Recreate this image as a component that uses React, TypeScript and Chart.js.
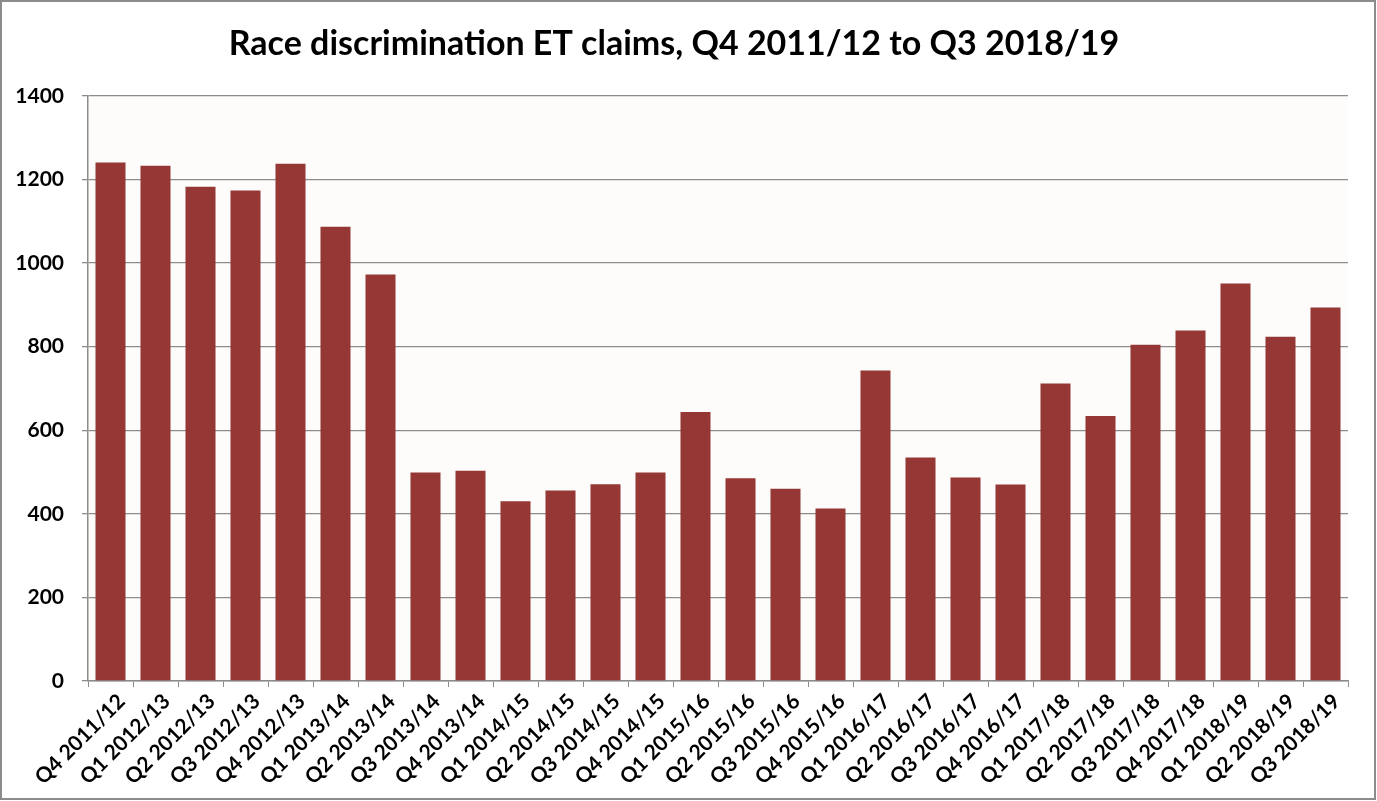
import React, { useEffect, useRef } from "react";
import { Chart, registerables } from "chart.js";

Chart.register(...registerables);

const TITLE = "Race discrimination ET claims, Q4 2011/12 to Q3 2018/19";

const quarters: string[] = [
  "Q4 2011/12", "Q1 2012/13", "Q2 2012/13", "Q3 2012/13", "Q4 2012/13",
  "Q1 2013/14", "Q2 2013/14", "Q3 2013/14", "Q4 2013/14", "Q1 2014/15",
  "Q2 2014/15", "Q3 2014/15", "Q4 2014/15", "Q1 2015/16", "Q2 2015/16",
  "Q3 2015/16", "Q4 2015/16", "Q1 2016/17", "Q2 2016/17", "Q3 2016/17",
  "Q4 2016/17", "Q1 2017/18", "Q2 2017/18", "Q3 2017/18", "Q4 2017/18",
  "Q1 2018/19", "Q2 2018/19", "Q3 2018/19",
];

const claims: number[] = [
  1241, 1233, 1183, 1174, 1238, 1087, 973, 499, 503, 430,
  456, 471, 499, 644, 485, 460, 413, 743, 535, 487,
  470, 712, 634, 805, 839, 951, 824, 894,
];

const yTicks: number[] = [0, 200, 400, 600, 800, 1000, 1200, 1400];

const FONT = "Lato, 'Open Sans', 'DejaVu Sans', sans-serif";

export default function App() {
  const ref = useRef<HTMLCanvasElement | null>(null);

  useEffect(() => {
    document.body.style.margin = "0";
    const canvas = ref.current;
    if (!canvas) return;

    const frame = {
      id: "frame",
      beforeDraw(chart: any) {
        const { ctx, chartArea } = chart;
        ctx.save();
        ctx.fillStyle = "#ffffff";
        ctx.fillRect(0, 0, chart.width, chart.height);
        ctx.fillStyle = "#fdfcfa";
        ctx.fillRect(chartArea.left, chartArea.top, chartArea.right - chartArea.left, chartArea.bottom - chartArea.top);
        ctx.restore();
      },
      afterDraw(chart: any) {
        const { ctx } = chart;
        ctx.save();
        ctx.strokeStyle = "#8c8c8c";
        ctx.lineWidth = 2;
        ctx.strokeRect(1, 1, chart.width - 3, chart.height - 3);
        ctx.restore();
      },
    };

    const chart = new Chart(canvas, {
      type: "bar",
      data: {
        labels: quarters,
        datasets: [
          {
            data: claims,
            backgroundColor: "#953735",
            borderWidth: 0,
            barPercentage: 0.667,
            categoryPercentage: 1,
          },
        ],
      },
      options: {
        animation: false,
        responsive: false,
        maintainAspectRatio: false,
        devicePixelRatio: 1,
        layout: { padding: { left: 0, right: 29, top: 0, bottom: 0 } },
        plugins: {
          legend: { display: false },
          tooltip: { enabled: false },
          title: {
            display: true,
            text: TITLE,
            color: "#000000",
            font: { family: FONT, size: 34, weight: "bold", lineHeight: 1.2 },
            padding: { top: 24, bottom: 31.2 },
          },
        },
        scales: {
          x: {
            grid: {
              display: true,
              offset: true,
              drawOnChartArea: false,
              drawTicks: true,
              tickLength: 6,
              color: "#8c8c8c",
            },
            border: { display: true, color: "#8c8c8c", width: 1.5 },
            ticks: {
              autoSkip: false,
              minRotation: 45,
              maxRotation: 45,
              color: "#000000",
              font: { family: FONT, size: 21, weight: "bold" },
              padding: 2,
              labelOffset: 11,
            },
            afterFit(scale: any) {
              scale.height = 120;
            },
          },
          y: {
            min: 0,
            max: 1400,
            afterBuildTicks(scale: any) {
              scale.ticks = yTicks.map((v) => ({ value: v }));
            },
            grid: {
              color: "#8c8c8c",
              lineWidth: 1.3,
              tickLength: 6,
            },
            border: { display: true, color: "#8c8c8c", width: 1.5 },
            ticks: {
              color: "#000000",
              font: { family: FONT, size: 21, weight: "bold" },
              padding: 18,
              callback: (v: any) => String(v),
            },
            afterFit(scale: any) {
              scale.width = 88;
            },
          },
        },
      },
      plugins: [frame],
    });

    return () => chart.destroy();
  }, []);

  return (
    <div style={{ width: 1377, height: 801, position: "relative" }}>
      <canvas ref={ref} width={1377} height={801} style={{ display: "block", width: 1377, height: 801 }} />
    </div>
  );
}
